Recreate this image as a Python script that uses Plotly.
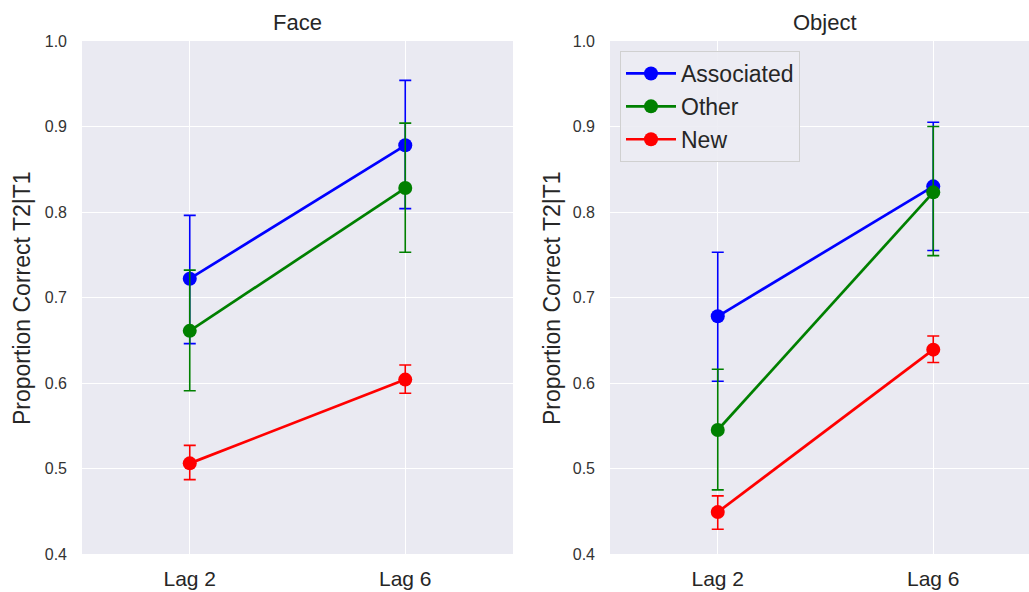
import plotly.graph_objects as go

lags = ["Lag 2", "Lag 6"]
series = ["Associated", "Other", "New"]
colors = ["#0000FF", "#008000", "#FF0000"]

face_mean = {"Associated": [0.722, 0.878], "Other": [0.661, 0.828], "New": [0.506, 0.604]}
face_hi = {"Associated": [0.796, 0.954], "Other": [0.732, 0.904], "New": [0.527, 0.621]}
face_lo = {"Associated": [0.646, 0.804], "Other": [0.591, 0.753], "New": [0.487, 0.588]}

obj_mean = {"Associated": [0.678, 0.830], "Other": [0.545, 0.823], "New": [0.449, 0.639]}
obj_hi = {"Associated": [0.753, 0.905], "Other": [0.616, 0.900], "New": [0.468, 0.655]}
obj_lo = {"Associated": [0.602, 0.755], "Other": [0.475, 0.749], "New": [0.429, 0.624]}

yticks = [0.4, 0.5, 0.6, 0.7, 0.8, 0.9, 1.0]
ytick_text = ["0.4", "0.5", "0.6", "0.7", "0.8", "0.9", "1.0"]

W, H = 1029, 592
FONT = "Liberation Sans, Arial, sans-serif"

fig = go.Figure()

panels = [
    ("x", "y", face_mean, face_hi, face_lo, False),
    ("x2", "y2", obj_mean, obj_hi, obj_lo, True),
]
xs = [0, 1]
for xa, ya, mean, hi, lo, show in panels:
    for s, c in zip(series, colors):
        m = mean[s]
        fig.add_trace(go.Scatter(
            x=xs, y=m, xaxis=xa, yaxis=ya, name=s, showlegend=show,
            mode="lines+markers",
            line=dict(color=c, width=2.7),
            marker=dict(color=c, size=14),
            error_y=dict(type="data", symmetric=False,
                         array=[h - v for h, v in zip(hi[s], m)],
                         arrayminus=[v - l for l, v in zip(lo[s], m)],
                         color=c, thickness=1.6, width=6),
        ))

ydom = [(592 - 554) / H, (592 - 41) / H]
axis_common = dict(showgrid=True, gridcolor="white", gridwidth=1.3, zeroline=False,
                   showline=False, ticks="", automargin=False)
xaxis_common = dict(axis_common, tickvals=xs, ticktext=lags, ticklabelstandoff=10,
                    tickfont=dict(family=FONT, size=21, color="#262626"))
yaxis_common = dict(axis_common, range=[0.4, 1.0], tickvals=yticks, ticktext=ytick_text,
                    ticklabelstandoff=14,
                    tickfont=dict(family=FONT, size=16, color="#333333"))

fig.update_layout(
    width=W, height=H, autosize=False,
    margin=dict(l=0, r=0, t=0, b=0, pad=0),
    paper_bgcolor="white", plot_bgcolor="#EAEAF2",
    font=dict(family=FONT, color="#262626"),
    xaxis=dict(xaxis_common, domain=[82 / W, 513 / W], range=[-0.5, 1.5]),
    xaxis2=dict(xaxis_common, domain=[610 / W, 1.0], range=[-0.5, 1.5 - 12 / 215.5]),
    yaxis=dict(yaxis_common, domain=ydom, anchor="x"),
    yaxis2=dict(yaxis_common, domain=ydom, anchor="x2"),
    legend=dict(x=620 / W, y=1 - 51 / H, xanchor="left", yanchor="top",
                bgcolor="rgba(236,236,243,0.9)", bordercolor="#D0D0D0", borderwidth=1,
                font=dict(family=FONT, size=23, color="#262626"),
                itemwidth=50, tracegroupgap=4),
    showlegend=True,
)

annotations = [
    dict(text="Face", x=297 / W, y=1 - 22 / H, font=dict(size=22)),
    dict(text="Object", x=825 / W, y=1 - 22 / H, font=dict(size=22)),
    dict(text="Proportion Correct T2|T1", x=22 / W, y=1 - 298 / H, textangle=-90, font=dict(size=23)),
    dict(text="Proportion Correct T2|T1", x=552 / W, y=1 - 298 / H, textangle=-90, font=dict(size=23)),
]
for a in annotations:
    fig.add_annotation(xref="paper", yref="paper", showarrow=False,
                       xanchor="center", yanchor="middle", **a)

fig.write_html("out.html", config={"displayModeBar": False},
               post_script="document.body.style.margin='0';document.body.style.overflow='hidden';")
